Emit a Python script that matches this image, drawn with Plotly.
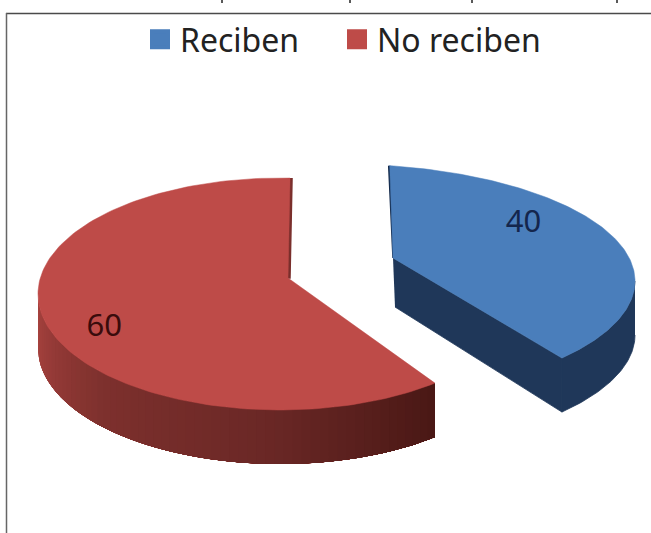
import numpy as np
import plotly.graph_objects as go

categories = ["Reciben", "No reciben"]
values = [40, 60]
top_colors = ["#4a7ebb", "#be4b48"]
side_colors_blue = ["#1f3759", "#1f3759"]
side_colors_red = ["#a8433f", "#7d302d", "#6b2826", "#4a1815"]
wall_colors = ["#13294a", "#7a2f2c"]
label_colors = ["#14264d", "#3a0c0c"]

W, H = 651, 533
DEPTH = 54
# projected ellipse of each slice: centre, semi-axes, apex, first angle, sweep scale, label placement
geom = [
    dict(cx=340, cy=281, a=295, b=117, ax=393, ay=258, start=9.7, warp=0.84375, lf=0.34, lr=0.80),
    dict(cx=280, cy=294, a=242, b=116, ax=288, ay=278, start=140.2, warp=1.0286, lf=0.49, lr=0.778),
]
total = sum(values)


def pt(g, t, r=1.0):
    t = np.radians(t)
    return g["cx"] + r * g["a"] * np.sin(t), g["cy"] - r * g["b"] * np.cos(t)


def hexmix(stops, f):
    rgb = [tuple(int(s[i:i + 2], 16) for i in (1, 3, 5)) for s in stops]
    p = f * (len(rgb) - 1)
    i = min(int(p), len(rgb) - 2)
    k = p - i
    c = [round(rgb[i][j] + (rgb[i + 1][j] - rgb[i][j]) * k) for j in range(3)]
    return f"rgb({c[0]},{c[1]},{c[2]})"


fig = go.Figure()


def poly(x, y, color, lw=0.8):
    fig.add_trace(go.Scatter(x=list(x), y=list(y), mode="lines", fill="toself", fillcolor=color,
                             line=dict(color=color, width=lw), showlegend=False, hoverinfo="skip"))


for i, (v, g) in enumerate(zip(values, geom)):
    sweep = v / total * 360 * g["warp"]
    t0, t1 = g["start"], g["start"] + sweep
    ts = np.linspace(t0, t1, 160)
    ax_, ay_ = g["ax"], g["ay"]
    x_top, y_top = pt(g, ts)
    if i == 0:
        # cut wall (apex to corner) and outer wall
        cx_, cy_ = pt(g, t1)
        poly([ax_, cx_, cx_, ax_ + 2], [ay_, cy_, cy_ + DEPTH, ay_ + DEPTH - 5], side_colors_blue[0])
        tw = np.linspace(90, t1, 60)
        xw, yw = pt(g, tw)
        poly(list(xw) + list(xw[::-1]), list(yw) + list(yw[::-1] + DEPTH), side_colors_blue[1])
        sx, sy = pt(g, t0)
        poly([sx - 1, ax_, ax_, sx], [sy, ay_, ay_, sy], wall_colors[0], lw=1.5)
    else:
        sx, sy = pt(g, t1)
        poly([sx, ax_, ax_ + 2, sx + 2], [sy, ay_, ay_, sy], wall_colors[1], lw=1.5)
        n = 60
        edges = np.linspace(270, t0, n + 1)
        for j in range(n):
            # each band runs on to the far end, so later bands paint over it without seams
            seg = np.linspace(edges[j], t0, 60)
            xs, ys = pt(g, seg)
            poly(list(xs) + list(xs[::-1]), list(ys) + list(ys[::-1] + DEPTH),
                 hexmix(side_colors_red, j / (n - 1)), lw=0)
    poly([ax_] + list(x_top) + [ax_], [ay_] + list(y_top) + [ay_], top_colors[i], lw=0.5)

# data labels
for i, (v, g) in enumerate(zip(values, geom)):
    sweep = v / total * 360 * g["warp"]
    lx, ly = pt(g, g["start"] + g["lf"] * sweep, g["lr"])
    fig.add_trace(go.Scatter(x=[lx], y=[ly + 2.5], mode="text", text=[str(v)], showlegend=False,
                             textposition="middle center", hoverinfo="skip",
                             textfont=dict(family="Noto Sans", size=31, color=label_colors[i])))

# legend entries, one legend per entry so each can sit where the reference has it
for name, c, leg in zip(categories, top_colors, ["legend", "legend2"]):
    fig.add_trace(go.Scatter(x=[None], y=[None], mode="markers", name=name, legend=leg,
                             marker=dict(symbol="square", size=16, color=c, line=dict(color=c, width=4))))

frame = "#4a4a4a"
shapes = [
    dict(type="line", xref="x", yref="y", x0=6, x1=W, y0=13.5, y1=13.5, line=dict(color=frame, width=1.5)),
    dict(type="line", xref="x", yref="y", x0=6.5, x1=6.5, y0=13, y1=H, line=dict(color="#666666", width=1.5)),
]
for xc in [222, 350, 472, 617]:
    shapes.append(dict(type="line", xref="x", yref="y", x0=xc, x1=xc, y0=0, y1=3, line=dict(color="#222222", width=1.5)))

legend_font = dict(family="Noto Sans", size=32, color="#222222")
fig.update_layout(
    width=W, height=H, margin=dict(l=0, r=0, t=0, b=0),
    paper_bgcolor="white", plot_bgcolor="white", shapes=shapes,
    xaxis=dict(range=[0, W], visible=False, fixedrange=True),
    yaxis=dict(range=[H, 0], visible=False, fixedrange=True),
    legend=dict(x=140 / W, xanchor="left", y=1 - 12 / H, yanchor="top", itemwidth=30,
                font=legend_font, bgcolor="rgba(0,0,0,0)"),
    legend2=dict(x=337 / W, xanchor="left", y=1 - 12 / H, yanchor="top", itemwidth=30,
                 font=legend_font, bgcolor="rgba(0,0,0,0)"),
)
fig.write_html("out.html", config={"displayModeBar": False},
               post_script="document.body.style.margin='0';document.documentElement.style.overflow='hidden';")
